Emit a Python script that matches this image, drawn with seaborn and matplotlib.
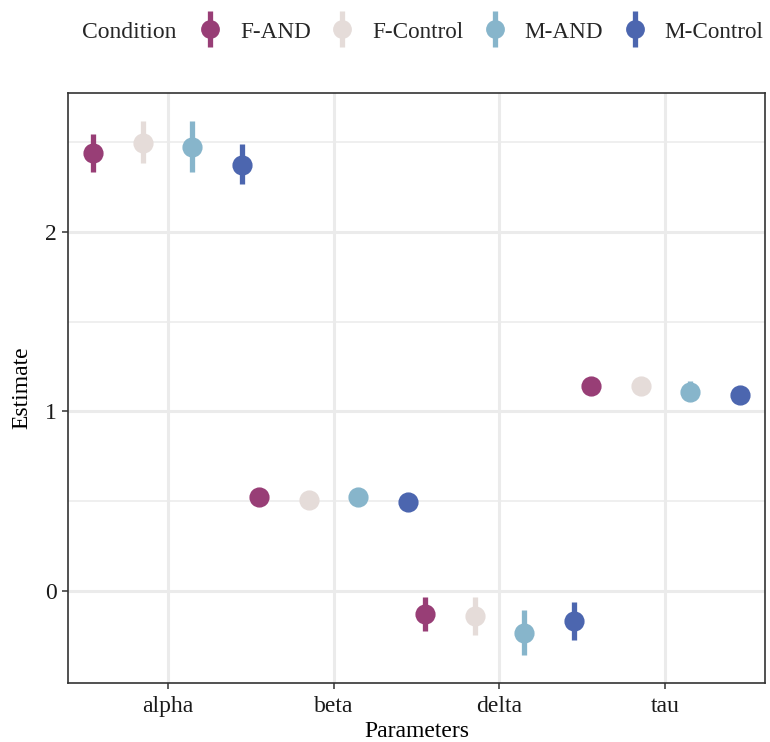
import numpy as np
import pandas as pd
import matplotlib
matplotlib.use("Agg")
import matplotlib.pyplot as plt
from matplotlib.lines import Line2D
import seaborn as sns

parameters = ["alpha", "beta", "delta", "tau"]
conditions = ["F-AND", "F-Control", "M-AND", "M-Control"]
colors = ["#983E76", "#E5DCD9", "#87B5CB", "#4C66AF"]

# estimates per parameter (rows) and condition (columns)
estimate = [
    [2.44, 2.494, 2.472, 2.372],
    [0.522, 0.506, 0.522, 0.494],
    [-0.128, -0.139, -0.233, -0.167],
    [1.139, 1.139, 1.111, 1.094],
]
lower = [
    [2.333, 2.383, 2.333, 2.267],
    [0.522, 0.506, 0.522, 0.494],
    [-0.222, -0.244, -0.356, -0.272],
    [1.139, 1.139, 1.056, 1.084],
]
upper = [
    [2.544, 2.617, 2.617, 2.489],
    [0.522, 0.506, 0.522, 0.494],
    [-0.033, -0.033, -0.106, -0.061],
    [1.139, 1.139, 1.167, 1.104],
]

rows = []
for i, p in enumerate(parameters):
    for j, c in enumerate(conditions):
        for v in (lower[i][j], estimate[i][j], upper[i][j]):
            rows.append({"Parameters": p, "Condition": c, "Estimate": v})
df = pd.DataFrame(rows)

sns.set_theme(style="white")
plt.rcParams["font.family"] = ["Liberation Serif", "DejaVu Serif"]

FS = 17

fig = plt.figure(figsize=(7.70, 7.42), dpi=100)
ax = fig.add_axes([68 / 770, (742 - 683) / 742, (765 - 68) / 770, (683 - 93) / 742])

# grid
for y in [0.5, 1.5, 2.5]:
    ax.axhline(y, color="#EBEBEB", lw=1.1, zorder=0)
for y in [0, 1, 2]:
    ax.axhline(y, color="#EBEBEB", lw=2.2, zorder=0)
for x in range(len(parameters)):
    ax.axvline(x, color="#EBEBEB", lw=2.2, zorder=0)

sns.pointplot(
    data=df, x="Parameters", y="Estimate", hue="Condition",
    order=parameters, hue_order=conditions, palette=colors,
    estimator="median", errorbar=("pi", 100), dodge=0.9,
    linestyle="none", markers="o", markersize=12.5,
    err_kws={"linewidth": 3.8, "solid_capstyle": "butt"},
    ax=ax, zorder=3,
)
ax.get_legend().remove()

ax.set_xlim(-0.6, 3.6)
ax.set_ylim(-0.511, 2.772)
ax.set_yticks([0, 1, 2])
ax.set_yticklabels(["0", "1", "2"])
ax.tick_params(axis="both", which="major", labelsize=FS, colors="#333333",
               labelcolor="#1a1a1a", length=4.3, width=1.1, direction="out",
               bottom=True, left=True, pad=3.5)
ax.tick_params(axis="x", pad=5)
for s in ax.spines.values():
    s.set_color("#333333")
    s.set_linewidth(1.2)
ax.set_xlabel("Parameters", fontsize=FS, color="black", labelpad=3)
ax.set_ylabel("Estimate", fontsize=FS, color="black", labelpad=9)

# legend
handles = []
for col in colors:
    bar = Line2D([], [], color=col, marker="|", markersize=26, markeredgewidth=3.8, linestyle="none")
    dot = Line2D([], [], color=col, marker="o", markersize=12.5, linestyle="none")
    handles.append((bar, dot))
fig.text(82 / 770, 1 - 32 / 742, "Condition", fontsize=FS, va="center", ha="left")
leg = fig.legend(handles, conditions, loc="center left",
                 bbox_to_anchor=(197 / 770, 1 - 32 / 742), ncol=4, frameon=False,
                 fontsize=16.7, handlelength=1.1, handletextpad=0.75,
                 columnspacing=0.8, borderaxespad=0, borderpad=0)

fig.savefig("out.png", dpi=100)
